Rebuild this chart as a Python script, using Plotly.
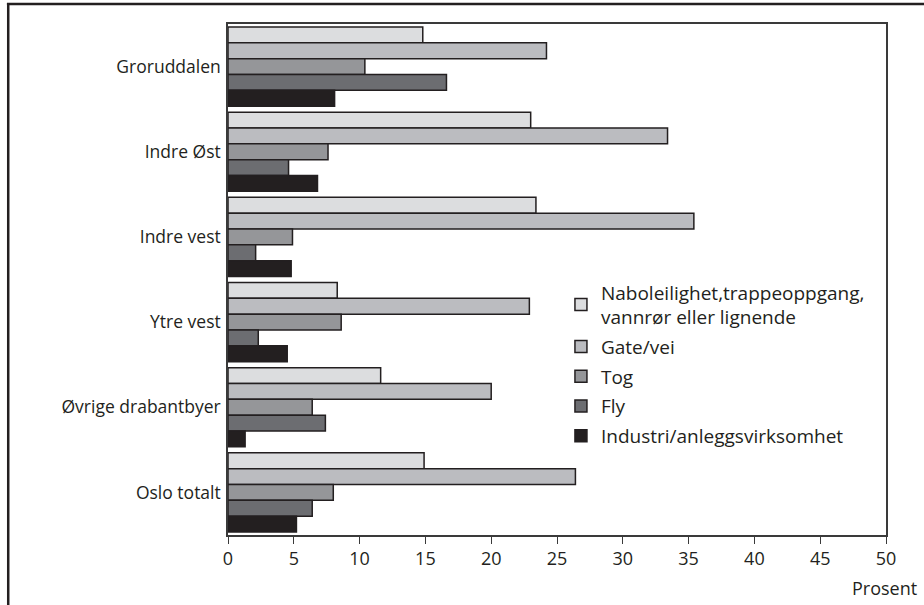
import plotly.graph_objects as go

categories = ["Groruddalen", "Indre Øst", "Indre vest", "Ytre vest", "Øvrige drabantbyer", "Oslo totalt"]
series_names = [
    "Naboleilighet,trappeoppgang,<br>vannrør eller lignende",
    "Gate/vei",
    "Tog",
    "Fly",
    "Industri/anleggsvirksomhet",
]
nabo = [14.8, 23.0, 23.4, 8.3, 11.6, 14.9]
gate = [24.2, 33.4, 35.4, 22.9, 20.0, 26.4]
tog = [10.4, 7.6, 4.9, 8.6, 6.4, 8.0]
fly = [16.6, 4.6, 2.1, 2.3, 7.4, 6.4]
industri = [8.1, 6.8, 4.8, 4.5, 1.3, 5.2]
x_ticks = [0, 5, 10, 15, 20, 25, 30, 35, 40, 45, 50]

colors = ["#dcdddf", "#bbbcc0", "#959699", "#6c6d71", "#231f20"]
values = [nabo, gate, tog, fly, industri]
ink = "#231f20"
font_family = "Open Sans, Noto Sans, sans-serif"

fig = go.Figure()
for i, (name, vals, col) in enumerate(zip(series_names, values, colors)):
    fig.add_trace(go.Bar(
        y=categories, x=vals, name=name, orientation="h",
        marker=dict(color=col, line=dict(color=ink, width=1.5)),
        legendgroup=f"g{i}",
    ))

fig.update_layout(
    width=924, height=605,
    margin=dict(l=228, r=38, t=24, b=70, autoexpand=False),
    paper_bgcolor="white", plot_bgcolor="white",
    barmode="group", bargap=0.07, bargroupgap=0,
    font=dict(family=font_family, color=ink, size=18),
    showlegend=True,
    legend=dict(
        x=0.506, y=0.512, xanchor="left", yanchor="top",
        font=dict(size=19, color=ink), bgcolor="rgba(0,0,0,0)",
        traceorder="grouped", tracegroupgap=2, itemwidth=30,
    ),
    xaxis=dict(
        range=[0, 50], tickvals=x_ticks, ticktext=[str(v) for v in x_ticks],
        showgrid=False, zeroline=False, automargin=False,
        showline=True, linecolor="#3a3a3a", linewidth=1.5, mirror=True,
        ticks="outside", ticklen=7, tickcolor="#3a3a3a", tickwidth=1,
        tickfont=dict(size=18, color=ink),
    ),
    yaxis=dict(
        autorange="reversed", showgrid=False, zeroline=False, automargin=False,
        showline=True, linecolor="#3a3a3a", linewidth=1.5, mirror=True,
        ticks="", ticklabelstandoff=2, tickfont=dict(size=17.5, color=ink),
    ),
    annotations=[dict(
        text="Prosent", xref="paper", yref="paper", x=1.05, y=-0.077,
        xanchor="right", yanchor="top", showarrow=False,
        font=dict(size=18, color=ink),
    )],
    shapes=[
        dict(type="line", xref="paper", yref="paper", x0=-0.336, x1=1.06, y0=1.039, y1=1.039,
             line=dict(color=ink, width=2.5)),
        dict(type="line", xref="paper", yref="paper", x0=-0.334, x1=-0.334, y0=1.041, y1=-0.14,
             line=dict(color=ink, width=2.5)),
    ],
)

fig.write_html("out.html", config={"displayModeBar": False},
               post_script="document.body.style.margin='0';")
